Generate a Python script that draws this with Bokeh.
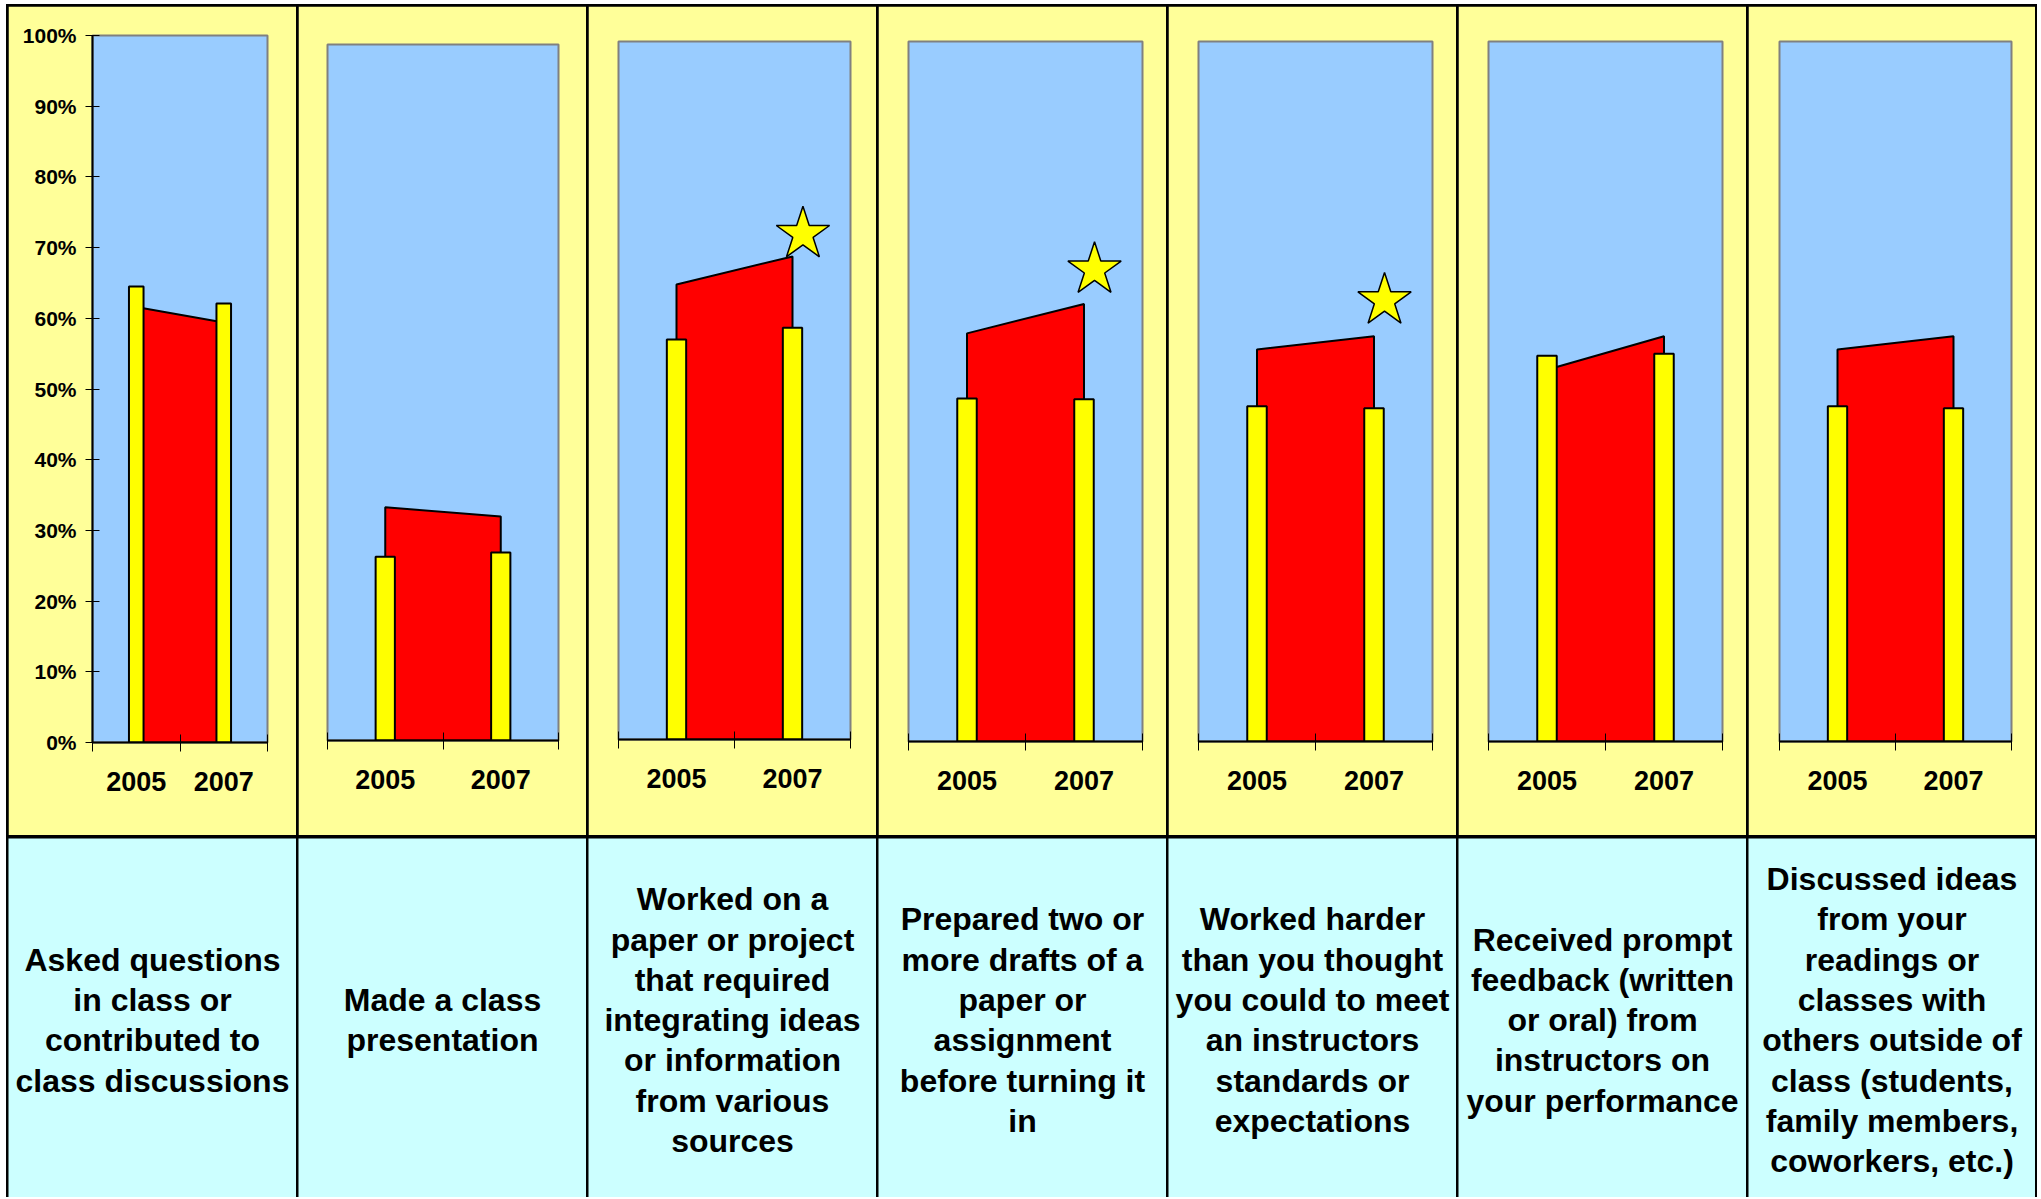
from bokeh.plotting import figure
from bokeh.layouts import row, column
from bokeh.models import Range1d, FixedTicker, PrintfTickFormatter
from bokeh.core.properties import value
from bokeh.embed import file_html
from bokeh.resources import INLINE

# ---------------- data ----------------
years = ["2005", "2007"]
labels = [
    "Asked questions\nin class or\ncontributed to\nclass discussions",
    "Made a class\npresentation",
    "Worked on a\npaper or project\nthat required\nintegrating ideas\nor information\nfrom various\nsources",
    "Prepared two or\nmore drafts of a\npaper or\nassignment\nbefore turning it\nin",
    "Worked harder\nthan you thought\nyou could to meet\nan instructors\nstandards or\nexpectations",
    "Received prompt\nfeedback (written\nor oral) from\ninstructors on\nyour performance",
    "Discussed ideas\nfrom your\nreadings or\nclasses with\nothers outside of\nclass (students,\nfamily members,\ncoworkers, etc.)",
]
bar_2005 = [64.5, 26.4, 57.3, 49.0, 47.9, 55.1, 47.9]
bar_2007 = [62.1, 27.0, 59.0, 48.9, 47.6, 55.4, 47.6]
area_2005 = [61.6, 33.5, 65.2, 58.3, 56.0, 53.1, 56.0]
area_2007 = [59.4, 32.2, 69.2, 62.5, 57.9, 57.9, 57.9]
star_2007 = [None, None, 72.4, 67.4, 63.0, None, None]
y_ticks = list(range(0, 101, 10))

# ---------------- styles ----------------
PANEL_WS = [288, 288, 288, 288, 288, 288, 287]
TOP_H = 829
BOT_H = 359
YELLOW_BG = "#FFFF99"
BLUE = "#99CCFF"
RED = "#FF0000"
BAR = "#FFFF00"
CYAN = "#CCFFFF"
FONT = "Liberation Sans"

# frame borders per panel: (left, right, top, bottom)
BORDERS = [(84, 29, 29, 93), (29, 28, 38, 95), (30, 26, 35, 96),
           (30, 24, 35, 94), (30, 24, 35, 94), (30, 24, 35, 94), (31, 24, 35, 94)]

cats = [0.5, 1.5]  # category centres on a 0..2 axis

charts = []
for i in range(len(labels)):
    first = (i == 0)
    bl, br, bt, bb = BORDERS[i]
    p = figure(
        width=PANEL_WS[i], height=TOP_H,
        x_range=Range1d(0, 2), y_range=Range1d(0, 100),
        output_backend="svg", toolbar_location=None,
        y_axis_location="left" if first else None,
        min_border_left=bl, min_border_right=br,
        min_border_top=bt, min_border_bottom=bb,
    )
    p.background_fill_color = BLUE
    p.border_fill_color = YELLOW_BG
    p.outline_line_color = "#808080"
    p.outline_line_width = 2
    p.xgrid.visible = False
    p.ygrid.visible = False

    # red area between the two years
    p.patch(x=[cats[0], cats[0], cats[1], cats[1]],
            y=[0, area_2005[i], area_2007[i], 0],
            fill_color=RED, line_color="black", line_width=2)
    # yellow bars
    p.vbar(x=cats, top=[bar_2005[i], bar_2007[i]], width=1 / 6,
           fill_color=BAR, line_color="black", line_width=2)
    # star marker
    if star_2007[i] is not None:
        p.scatter(x=[cats[1] + 0.09], y=[star_2007[i]], marker="star", size=56,
                  fill_color=BAR, line_color="black", line_width=1.5)

    xa = p.xaxis[0]
    xa.ticker = FixedTicker(ticks=cats, minor_ticks=[0, 1, 2])
    xa.major_label_overrides = {cats[k]: years[k] for k in range(2)}
    xa.major_tick_line_color = None
    xa.major_tick_in = 0
    xa.major_tick_out = 0
    xa.minor_tick_line_color = "black"
    xa.minor_tick_in = 8
    xa.minor_tick_out = 9
    xa.axis_line_color = "black"
    xa.axis_line_width = 2
    xa.major_label_text_font = FONT
    xa.major_label_text_font_style = "bold"
    xa.major_label_text_font_size = "27px"
    xa.major_label_text_color = "black"
    xa.major_label_standoff = 20

    if first:
        ya = p.yaxis[0]
        ya.ticker = FixedTicker(ticks=y_ticks)
        ya.formatter = PrintfTickFormatter(format="%d%%")
        ya.major_tick_in = 7
        ya.major_tick_out = 7
        ya.major_tick_line_color = "black"
        ya.minor_tick_line_color = None
        ya.axis_line_color = "black"
        ya.axis_line_width = 2
        ya.major_label_text_font = FONT
        ya.major_label_text_font_style = "bold"
        ya.major_label_text_font_size = "21px"
        ya.major_label_text_color = "black"
        ya.major_label_standoff = 9
    # wrap each panel in its own column so that frames are not aligned
    charts.append(column(p))

boxes = []
for i, lab in enumerate(labels):
    q = figure(
        width=PANEL_WS[i], height=BOT_H,
        x_range=Range1d(0, 1), y_range=Range1d(0, 1),
        output_backend="svg", toolbar_location=None,
        x_axis_location=None, y_axis_location=None,
        min_border=0,
    )
    q.background_fill_color = CYAN
    q.border_fill_color = CYAN
    q.outline_line_color = None
    q.xgrid.visible = False
    q.ygrid.visible = False
    q.text(x=[0.5], y=[0.494], text=[lab],
           text_font=value(FONT), text_font_style="bold",
           text_font_size=value("32px"), text_align="center",
           text_baseline="middle", text_line_height=1.12, text_color="black")
    boxes.append(column(q))

top = row(charts, spacing=2, styles={"background-color": "black"})
bottom = row(boxes, spacing=2, styles={"background-color": "black"})
layout = column(top, bottom, spacing=3,
                styles={"background-color": "black",
                        "padding": "2px 2px 0px 2px",
                        "margin-left": "6px", "margin-top": "4px"})

open("out.html", "w").write(file_html(layout, INLINE))
